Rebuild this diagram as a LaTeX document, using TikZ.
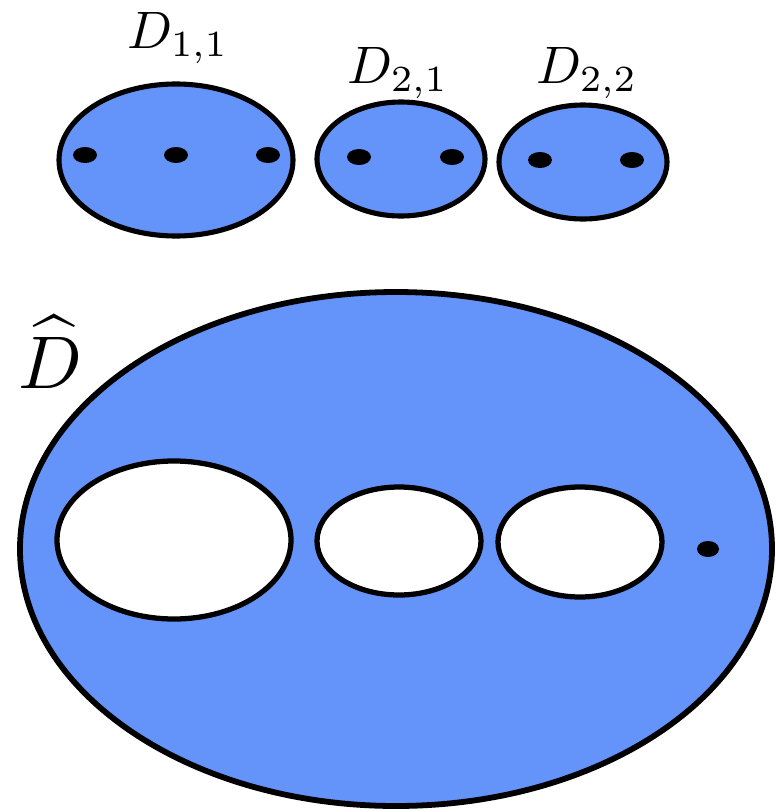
\documentclass[tikz,border=0pt]{standalone}
\usepackage{amsmath,amssymb}
\usetikzlibrary{positioning}
\definecolor{discblue}{RGB}{100,148,250}

\begin{document}
\begin{tikzpicture}[x=0.02cm,y=-0.02cm]
  \tikzstyle{disc}=[draw=black,fill=discblue,line width=2.9pt]
  \tikzstyle{hole}=[draw=black,fill=white,line width=3pt]
  \tikzstyle{lbl}=[inner sep=0pt,scale=3]
  \useasboundingbox (0,0) rectangle (775,812);
  % small discs
  \draw[disc] (176,160) ellipse (117 and 76);
  \draw[disc] (401,159) ellipse (84 and 57);
  \draw[disc] (583,162) ellipse (84 and 57);
  \foreach \px/\py in {85/155,176/155,268/155,359/157,452/157,540/160,632/160}
    \fill (\px,\py) ellipse (12 and 8);
  \node[lbl] (d11) at (178,38) {$D_{1,1}$};
  \node[lbl] (d21) at (398,73) {$D_{2,1}$};
  \node[lbl] (d22) at (587,73) {$D_{2,2}$};
  % big disc with holes
  \draw[disc,line width=3.3pt] (396,549) ellipse (376 and 257);
  \draw[hole] (174,540) ellipse (117 and 79);
  \draw[hole] (399,541) ellipse (82 and 54);
  \draw[hole] (580,542) ellipse (82 and 55);
  \fill (708,549) ellipse (11 and 8);
  \node[inner sep=0pt,scale=4.25] (dhat) at (50,352) {$\widehat{D}$};
\end{tikzpicture}
\end{document}
